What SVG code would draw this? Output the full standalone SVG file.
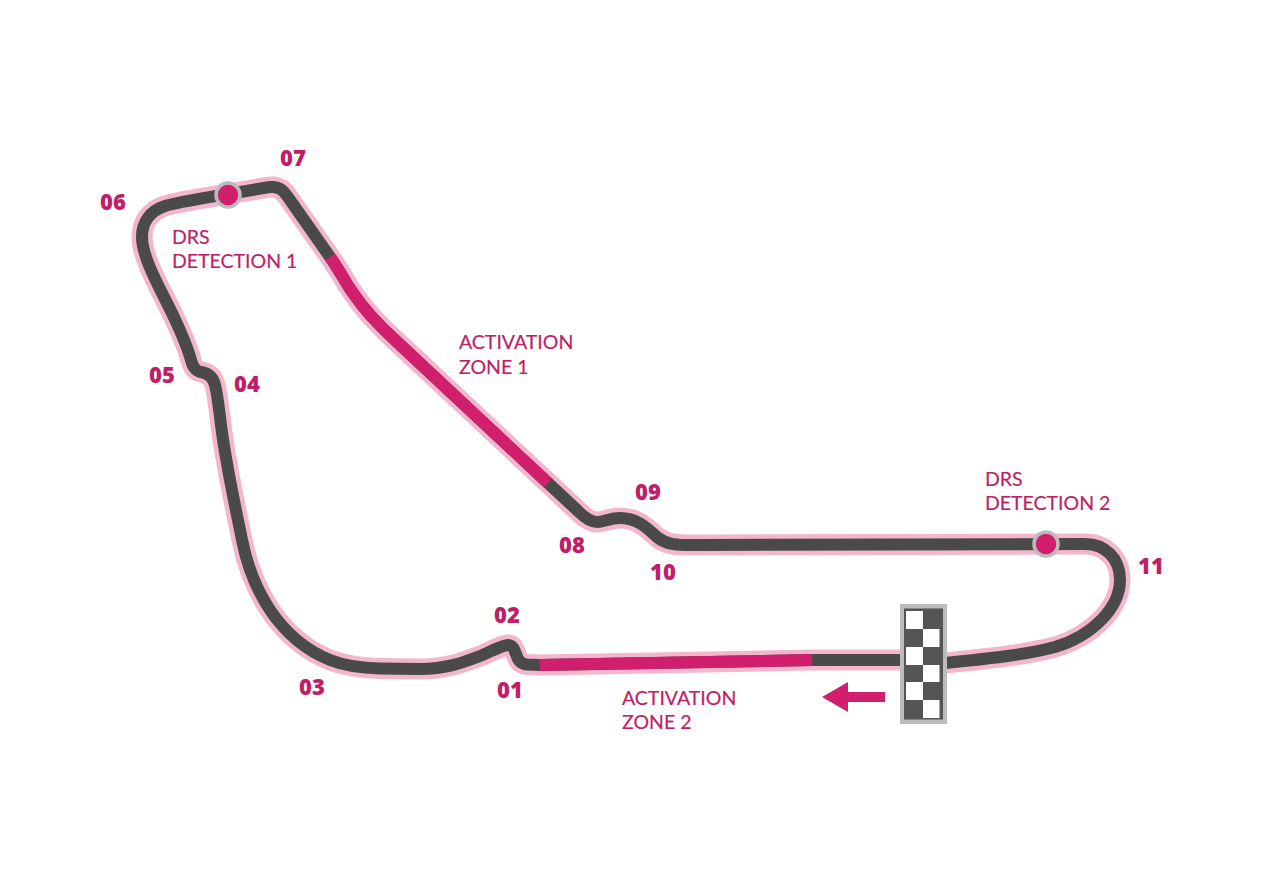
<svg xmlns="http://www.w3.org/2000/svg" width="1264" height="880" viewBox="0 0 1264 880">
<style>
.p{fill:none;stroke:#f3b6cc;stroke-width:21;stroke-linejoin:round;stroke-linecap:butt}
.d{fill:none;stroke:#4a4a4a;stroke-width:12;stroke-linejoin:round;stroke-linecap:butt}
.m{fill:none;stroke:#d11f6e;stroke-width:12}
.n{font-family:"Open Sans",Lato,sans-serif;font-weight:800;font-size:22px;fill:#c01e66}
.l{font-family:Lato,"Open Sans",sans-serif;font-weight:400;font-size:19.500px;fill:#c01e66;stroke:#c01e66;stroke-width:.2}
.w{fill:#fff}
</style>
<defs>
<path id="track" d="M945 663C985 659 1025 655 1055 647C1092 636 1120 608 1120 580C1120 558 1105 544 1085 544L700 545C680 545 668 546 657 537C648 529 638 518 620 518C610 518 604 522 597 522C590 522 584 517 578 511L548 483L395 340C383 329 367 314 353 293C345 282 340 271 330 257L290 200C284 191 280 186 270 187L228 194C205 198 178 202 165 206C150 211 142 222 142 237C142 255 156 281 167 303C178 325 186 342 191 360C193 368 196 371 201 372C208 373 213 377 215 385C218 397 219 410 221 425C226 465 234 500 242 540C248 570 258 592 270 610C285 632 305 650 330 660C345 666 360 668 380 668.500L420 669C445 669 462 663 480 656C490 652 500 646 508 645C514 645 514 650 516 654C518 660 520 664 527 664.500L540 665L812 660L900 660"/>
</defs>
<g id="connectors">
<use href="#track" class="p"/>
<use href="#track" class="d"/>
<path id="activation-zone-1" class="m" d="M330 257C340 271 345 282 353 293C367 314 383 329 395 340L548 483"/>
<path id="activation-zone-2" class="m" d="M540 665L812 660"/>
</g>
<g id="drs-detection-1"><circle cx="228" cy="195" r="12" fill="#d11f6e" stroke="#bcbcbc" stroke-width="3.500"/>
<text class="l"><tspan x="172" y="244">DRS</tspan><tspan x="172" y="268">DETECTION 1</tspan></text></g>
<g id="drs-detection-2"><circle cx="1046" cy="544" r="12" fill="#d11f6e" stroke="#bcbcbc" stroke-width="3.500"/>
<text class="l"><tspan x="985" y="486">DRS</tspan><tspan x="985" y="510">DETECTION 2</tspan></text></g>
<g id="activation-label-1"><text class="l"><tspan x="459" y="349">ACTIVATION</tspan><tspan x="459" y="374">ZONE 1</tspan></text></g>
<g id="activation-label-2"><text class="l"><tspan x="622" y="705">ACTIVATION</tspan><tspan x="622" y="729">ZONE 2</tspan></text></g>
<g id="finish-line">
<rect x="900" y="604" width="47" height="120" fill="#bcbcbc"/>
<rect x="904" y="608.500" width="39" height="111" fill="#555"/>
<rect class="w" x="906" y="611" width="17" height="18"/>
<rect class="w" x="923" y="629" width="16.500" height="18"/>
<rect class="w" x="906" y="647" width="17" height="18"/>
<rect class="w" x="923" y="665" width="16.500" height="17"/>
<rect class="w" x="906" y="682" width="17" height="18"/>
<rect class="w" x="923" y="700" width="16.500" height="18"/>
</g>
<g id="direction-arrow"><path d="M885 692H848V682L822 697L848 712V702H885Z" fill="#d11f6e"/></g>
<g id="turn-01"><text class="n" x="497" y="698">01</text></g>
<g id="turn-02"><text class="n" x="494" y="623">02</text></g>
<g id="turn-03"><text class="n" x="299" y="695">03</text></g>
<g id="turn-04"><text class="n" x="234" y="392">04</text></g>
<g id="turn-05"><text class="n" x="149" y="383">05</text></g>
<g id="turn-06"><text class="n" x="100" y="210">06</text></g>
<g id="turn-07"><text class="n" x="280" y="166">07</text></g>
<g id="turn-08"><text class="n" x="559" y="553">08</text></g>
<g id="turn-09"><text class="n" x="635" y="500">09</text></g>
<g id="turn-10"><text class="n" x="650" y="580">10</text></g>
<g id="turn-11"><text class="n" x="1138" y="574">11</text></g>
</svg>
